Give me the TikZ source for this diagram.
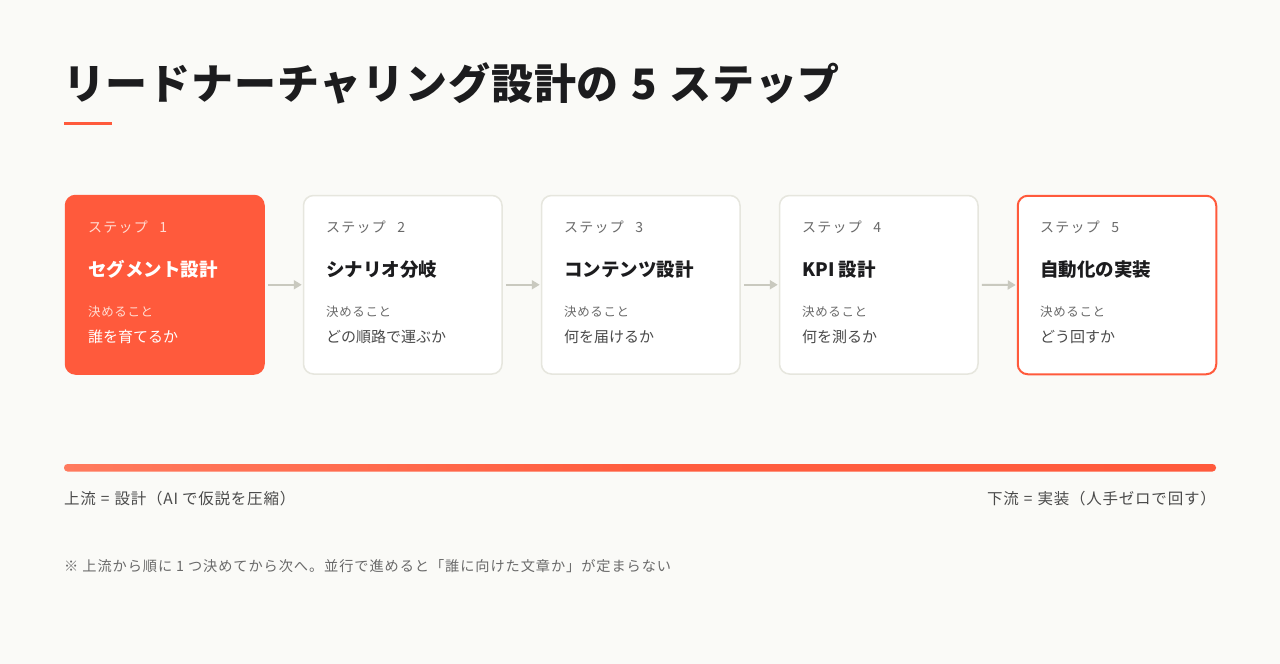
\documentclass[tikz,border=0pt]{standalone}
\usepackage{fontspec}
\usetikzlibrary{arrows.meta}
\setmainfont{Noto Sans CJK JP}
\newfontfamily\jp{Noto Sans CJK JP}
\newfontfamily\jpls[LetterSpace=9]{Noto Sans CJK JP}
\newfontfamily\jpsm[LetterSpace=5]{Noto Sans CJK JP}
\newfontfamily\jpft[LetterSpace=5]{Noto Sans CJK JP}
\newfontfamily\jpnt[LetterSpace=6.5]{Noto Sans CJK JP}
\newfontfamily\titlefont[LetterSpace=2]{Noto Sans CJK JP Black}
\definecolor{bg}{HTML}{FAFAF7}
\definecolor{accent}{HTML}{FF5A3C}
\definecolor{cardborder}{HTML}{E6E6DE}
\definecolor{arrowgray}{HTML}{C9C9BF}
\definecolor{dark}{HTML}{1C1C1E}
\definecolor{bodygray}{HTML}{4A4A4A}
\definecolor{labelgray}{HTML}{6A6A6A}
\definecolor{palepink}{HTML}{FFDCD2}
\definecolor{barlight}{HTML}{FF7A5E}
\begin{document}
\begin{tikzpicture}[x=1pt,y=-1pt,
  card/.style={draw=cardborder,line width=1.5,fill=white,rounded corners=10,minimum width=198.5,minimum height=178.5,anchor=north west,inner sep=0},
  hotcard/.style={card,draw=accent,fill=accent},
  lastcard/.style={card,draw=accent,line width=2},
  steplbl/.style={anchor=west,inner sep=0,text=labelgray,font=\jpls\fontsize{14}{16}\selectfont},
  cardtitle/.style={anchor=west,inner sep=0,text=dark,font=\jp\bfseries\fontsize{18.5}{22}\selectfont},
  decide/.style={anchor=west,inner sep=0,text=labelgray,font=\jpsm\fontsize{12.5}{15}\selectfont},
  answer/.style={anchor=west,inner sep=0,text=bodygray,font=\jp\fontsize{15}{18}\selectfont},
  flow/.style={draw=arrowgray,line width=2,-{Triangle[length=8,width=9]}},
  foot/.style={inner sep=0,text=bodygray,font=\jpft\fontsize{15.5}{18}\selectfont},
  note/.style={anchor=west,inner sep=0,text=labelgray,font=\jpnt\fontsize{14.2}{17}\selectfont}]
\fill[bg] (0,0) rectangle (1280,664);
\useasboundingbox (0,0) rectangle (1280,664);

\node[anchor=west,inner sep=0,text=dark,font=\titlefont\fontsize{42}{48}\selectfont] (title) at (63,83) {リードナーチャリング設計の\hspace{2pt} 5\hspace{2pt} ステップ};
\fill[accent] (64,121.5) rectangle (112,124.5);

\node[hotcard] (c1) at (64.75,194.75) {};
\node[card] (c2) at (302.75,194.75) {};
\node[card] (c3) at (540.75,194.75) {};
\node[card] (c4) at (778.75,194.75) {};
\node[lastcard] (c5) at (1016.75,194.75) {};

\node[steplbl,text=palepink] (s1) at ([shift={(23.25,32)}]c1.north west) {ステップ\hspace{7pt} 1};
\node[cardtitle,text=white] (t1) at ([shift={(23.25,75)}]c1.north west) {セグメント設計};
\node[decide,text=palepink] (d1) at ([shift={(23.25,117)}]c1.north west) {決めること};
\node[answer,text=white] (a1) at ([shift={(23.25,142)}]c1.north west) {誰を育てるか};

\node[steplbl] (s2) at ([shift={(23.25,32)}]c2.north west) {ステップ\hspace{7pt} 2};
\node[cardtitle] (t2) at ([shift={(23.25,75)}]c2.north west) {シナリオ分岐};
\node[decide] (d2) at ([shift={(23.25,117)}]c2.north west) {決めること};
\node[answer] (a2) at ([shift={(23.25,142)}]c2.north west) {どの順路で運ぶか};

\node[steplbl] (s3) at ([shift={(23.25,32)}]c3.north west) {ステップ\hspace{7pt} 3};
\node[cardtitle] (t3) at ([shift={(23.25,75)}]c3.north west) {コンテンツ設計};
\node[decide] (d3) at ([shift={(23.25,117)}]c3.north west) {決めること};
\node[answer] (a3) at ([shift={(23.25,142)}]c3.north west) {何を届けるか};

\node[steplbl] (s4) at ([shift={(23.25,32)}]c4.north west) {ステップ\hspace{7pt} 4};
\node[cardtitle] (t4) at ([shift={(23.25,75)}]c4.north west) {KPI 設計};
\node[decide] (d4) at ([shift={(23.25,117)}]c4.north west) {決めること};
\node[answer] (a4) at ([shift={(23.25,142)}]c4.north west) {何を測るか};

\node[steplbl] (s5) at ([shift={(23.25,32)}]c5.north west) {ステップ\hspace{7pt} 5};
\node[cardtitle] (t5) at ([shift={(23.25,75)}]c5.north west) {自動化の実装};
\node[decide] (d5) at ([shift={(23.25,117)}]c5.north west) {決めること};
\node[answer] (a5) at ([shift={(23.25,142)}]c5.north west) {どう回すか};

\draw[flow] ([xshift=3]c1.east) -- ([xshift=-1]c2.west);
\draw[flow] ([xshift=3]c2.east) -- ([xshift=-1]c3.west);
\draw[flow] ([xshift=3]c3.east) -- ([xshift=-1]c4.west);
\draw[flow] ([xshift=3]c4.east) -- ([xshift=-1]c5.west);

\shade[rounded corners=3.5,left color=barlight,right color=accent,middle color=accent!92!barlight] (64,464) rectangle (1216,471.5);

\node[foot,anchor=west] (up) at (64,499) {上流\hspace{5pt}=\hspace{5pt}設計（AI\hspace{4pt}で仮説を圧縮）};
\node[foot,anchor=east] (down) at (1216,499) {下流\hspace{5pt}=\hspace{5pt}実装（人手ゼロで回す）};

\node[note] (nt) at (64,566) {※\hspace{4pt}上流から順に\hspace{4pt}1\hspace{4pt}つ決めてから次へ。並行で進めると「誰に向けた文章か」が定まらない};
\end{tikzpicture}
\end{document}
